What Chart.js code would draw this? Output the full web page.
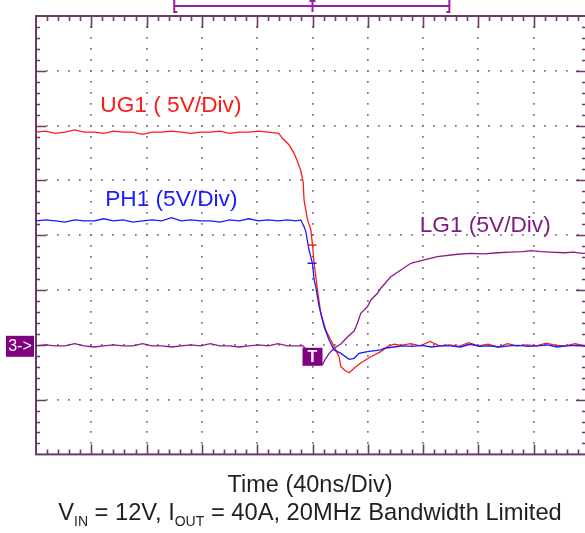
<!DOCTYPE html>
<html>
<head>
<meta charset="utf-8">
<script src="https://cdn.jsdelivr.net/npm/chart.js@4.4.1/dist/chart.umd.min.js"></script>
<style>
  html, body { margin:0; padding:0; background:#fff; overflow:hidden; }
  #wrap { position:relative; width:585px; height:533px; overflow:hidden; }
  #c { position:absolute; left:0; top:0; }
  .cap { position:absolute; left:0; width:620px; text-align:center; font-family:"Liberation Sans", Arial, sans-serif; color:#231f20; white-space:nowrap; line-height:1; }
  .cap sub { font-size:14px; vertical-align:-6px; line-height:0; }
</style>
</head>
<body>
<div id="wrap">
  <canvas id="c" width="600" height="533"></canvas>
  <div class="cap" id="cap1" style="top:473px; font-size:23.5px;">Time (40ns/Div)</div>
  <div class="cap" id="cap2" style="top:501px; font-size:23.7px;">V<sub>IN</sub> = 12V, I<sub>OUT</sub> = 40A, 20MHz Bandwidth Limited</div>
</div>
<script>
// Time in ns (40 ns/div, trigger at 0), voltage in V (5 V/div, ground at -10 + 2 div)
const ug1Time = [
  -200,-193,-186,-179,-172,-165,-158,-151,-144,-137,
  -130,-123,-116,-109,-102,-95,-88,-81,-74,-67,
  -60,-53,-46,-39,-32,-24.4,-21.7,-16.9,-13.3,-10.8,
  -8.5,-6.8,-6.1,-3.6,-1.2,0,1.2,3.6,6.0,9.6,
  13.2,15.6,19.2,20.5,23.5,26.5,30.5,34.9,42.2,49.4,
  54.2,59,64,71,78,85,92,99,106,113,
  120,127,134,141,148,155,162,169,176,183,
  190,197,201
];
const ug1Volt = [
  19.4,19.5,19.3,19.4,19.6,19.4,19.4,19.3,19.5,19.4,
  19.4,19.2,19.4,19.4,19.5,19.4,19.3,19.4,19.4,19.5,
  19.3,19.4,19.4,19.5,19.4,19.3,18.84,18.23,17.47,16.7,
  15.9,14.9,13.2,11.4,10.5,9.1,7.44,5.0,2.9,1.35,
  0.44,-0.17,-1.09,-2.0,-2.35,-2.55,-2.1,-1.66,-1.09,-0.63,
  -0.17,0.05,-0.05,0.1,-0.1,0.3,-0.1,0.0,-0.15,0.2,
  -0.1,0.05,-0.2,0.1,-0.1,0.0,-0.1,0.15,-0.05,-0.1,
  0.1,-0.1,0.0
];
const ph1Time = [
  -200,-193,-186,-179,-172,-165,-158,-151,-144,-137,
  -130,-123,-116,-109,-102,-95,-88,-81,-74,-67,
  -60,-53,-46,-39,-32,-25,-18,-12,-8.5,-6.1,
  -4.8,-2.5,0,1.2,2.4,4.8,8.4,12.0,15.6,20.5,
  26.5,30.1,33.7,39.8,49.4,51.8,58.8,65,72,79,
  86,93,100,107,114,121,128,135,142,149,
  156,163,170,177,184,191,198,201
];
const ph1Volt = [
  11.3,11.4,11.3,11.2,11.4,11.3,11.3,11.5,11.3,11.4,
  11.2,11.3,11.4,11.3,11.6,11.3,11.4,11.3,11.3,11.2,
  11.4,11.3,11.5,11.3,11.4,11.3,11.4,11.3,11.39,10.78,
  10.3,8.65,7.44,5.9,5.27,3.48,1.65,0.44,-0.47,-0.78,
  -1.32,-1.23,-0.78,-0.63,-0.47,-0.32,-0.2,-0.1,-0.15,-0.05,
  -0.2,-0.1,-0.1,-0.2,0.05,-0.15,-0.1,-0.2,-0.1,-0.05,
  -0.15,-0.1,0.0,-0.2,-0.1,-0.05,-0.15,-0.1
];
const lg1Time = [
  -200,-193,-186,-179,-172,-165,-158,-151,-144,-137,
  -130,-123,-116,-109,-102,-95,-88,-81,-74,-67,
  -60,-53,-46,-39,-32,-25,-18,-12,-7,-2.7,
  2.4,7.5,8.1,12.0,15.6,20.5,25.3,30.1,32.5,34.9,
  39.8,42.2,47.0,49.4,56.6,63.9,71.1,80.7,90.4,104.9,
  114.5,124,133.8,143,152,157.9,165,172,182,189,
  195,201
];
const lg1Volt = [
  -0.1,0.0,-0.1,-0.1,0.1,-0.1,-0.2,-0.1,0.0,-0.1,
  -0.1,0.1,-0.1,-0.1,-0.2,-0.1,0.0,-0.1,0.1,-0.1,
  -0.1,-0.2,-0.1,0.0,-0.1,0.1,-0.1,-0.1,-0.1,-0.66,
  -1.39,-1.75,-1.57,-0.78,-0.32,0.07,0.71,1.26,1.96,2.87,
  3.48,4.09,4.7,5.16,6.21,6.82,7.44,7.74,8.04,8.26,
  8.35,8.3,8.4,8.45,8.5,8.59,8.5,8.45,8.4,8.45,
  8.35,8.37
];
const seriesNames = ['UG1 ( 5V/Div)', 'PH1 (5V/Div)', 'LG1 (5V/Div)'];
const seriesColors = ['#ff1a1a', '#1a1aff', '#8a1a8a'];
const timeRange = [-200, 200];   // 10 div x 40 ns
const voltRange = [-10, 30];     // 8 div x 5 V

const pts = (t, v) => t.map((x, i) => ({ x: x, y: v[i] }));

const FRAME = '#6b3b6b';
const DOT = '#86628a';

const scopePlugin = {
  id: 'scope',
  beforeDatasetsDraw(chart) {
    const { ctx, scales: { x, y } } = chart;
    const L = x.getPixelForValue(timeRange[0]), R = x.getPixelForValue(timeRange[1]);
    const T = y.getPixelForValue(voltRange[1]), B = y.getPixelForValue(voltRange[0]);
    const dx = (R - L) / 10, dy = (B - T) / 8;
    ctx.save();
    ctx.fillStyle = DOT;
    for (let i = 1; i < 10; i++) {
      const px = L + i * dx;
      for (let j = 1; j < 40; j++) {
        const py = T + j * dy / 5;
        ctx.fillRect(Math.round(px) - 1, Math.round(py) - 1, 1.7, 1.7);
      }
    }
    for (let j = 1; j < 8; j++) {
      const py = T + j * dy;
      for (let i = 1; i < 50; i++) {
        const px = L + i * dx / 5;
        ctx.fillRect(Math.round(px) - 1, Math.round(py) - 1, 1.7, 1.7);
      }
    }
    ctx.strokeStyle = FRAME;
    ctx.lineWidth = 2;
    ctx.strokeRect(L, T, R - L, B - T);
    ctx.lineWidth = 1.6;
    ctx.beginPath();
    for (let i = 1; i < 50; i++) {
      const px = Math.round(L + i * dx / 5) + 0.5;
      const major = i % 5 === 0;
      ctx.moveTo(px, T); ctx.lineTo(px, T + (major ? 12 : 5));
      ctx.moveTo(px, B); ctx.lineTo(px, B - (major ? 10 : 5));
    }
    for (let j = 1; j < 40; j++) {
      const py = Math.round(T + j * dy / 5) + 0.5;
      const major = j % 5 === 0;
      ctx.moveTo(L, py); ctx.lineTo(L + (major ? 10 : 4), py);
      ctx.moveTo(R, py); ctx.lineTo(R - (major ? 13 : 7), py);
    }
    ctx.stroke();

    // record bracket at top
    const bl = x.getPixelForValue(-100), br = x.getPixelForValue(99), bt = x.getPixelForValue(0);
    ctx.strokeStyle = '#9a1f9a';
    ctx.lineWidth = 2;
    ctx.beginPath();
    ctx.moveTo(bl, 6); ctx.lineTo(br, 6);
    ctx.moveTo(bl, 0); ctx.lineTo(bl, 12); ctx.lineTo(bl + 3, 12);
    ctx.moveTo(br, 0); ctx.lineTo(br, 12); ctx.lineTo(br - 3, 12);
    ctx.moveTo(bt, 1); ctx.lineTo(bt, 12);
    ctx.moveTo(bt - 3, 1); ctx.lineTo(bt + 3, 1);
    ctx.stroke();
    ctx.restore();
  },
  afterDatasetsDraw(chart) {
    const { ctx, scales: { x, y } } = chart;
    const g = y.getPixelForValue(0);
    const t0 = x.getPixelForValue(0);
    ctx.save();
    // cursor marks
    ctx.lineWidth = 1.5;
    ctx.strokeStyle = seriesColors[0];
    ctx.beginPath(); ctx.moveTo(t0 - 5, y.getPixelForValue(9.1)); ctx.lineTo(t0 + 4, y.getPixelForValue(9.1)); ctx.stroke();
    ctx.strokeStyle = seriesColors[1];
    ctx.beginPath(); ctx.moveTo(t0 - 5, y.getPixelForValue(7.44)); ctx.lineTo(t0 + 4, y.getPixelForValue(7.44)); ctx.stroke();

    // ground marker
    ctx.fillStyle = '#800080';
    ctx.fillRect(6, g - 9, 28, 21);
    ctx.fillStyle = '#ffffff';
    ctx.font = '16px "Liberation Sans", Arial, sans-serif';
    ctx.textBaseline = 'middle';
    ctx.textAlign = 'center';
    ctx.fillText('3->', 20, g + 1.5);
    // trigger marker
    ctx.fillStyle = '#800080';
    ctx.fillRect(t0 - 10, g + 3, 20, 18);
    ctx.fillStyle = '#ffffff';
    ctx.font = 'bold 16px "Liberation Sans", Arial, sans-serif';
    ctx.fillText('T', t0, g + 12.5);

    // trace labels
    ctx.textAlign = 'left';
    ctx.textBaseline = 'alphabetic';
    ctx.font = '22.7px "Liberation Sans", Arial, sans-serif';
    ctx.fillStyle = seriesColors[0];
    ctx.fillText(seriesNames[0], x.getPixelForValue(-153.5), y.getPixelForValue(21.2));
    ctx.fillStyle = seriesColors[1];
    ctx.fillText(seriesNames[1], x.getPixelForValue(-150), y.getPixelForValue(12.65));
    ctx.fillStyle = '#7f1a7f';
    ctx.fillText(seriesNames[2], x.getPixelForValue(77.5), y.getPixelForValue(10.3));
    ctx.restore();
  }
};

new Chart(document.getElementById('c'), {
  type: 'line',
  data: {
    datasets: [
      { label: seriesNames[0], data: pts(ug1Time, ug1Volt), borderColor: seriesColors[0], order: 1 },
      { label: seriesNames[1], data: pts(ph1Time, ph1Volt), borderColor: seriesColors[1], order: 0 },
      { label: seriesNames[2], data: pts(lg1Time, lg1Volt), borderColor: seriesColors[2], order: 2 }
    ]
  },
  options: {
    responsive: false,
    animation: false,
    devicePixelRatio: 1,
    layout: { padding: { left: 36, top: 16, right: 11, bottom: 78.6 } },
    elements: { line: { borderWidth: 1.3, tension: 0 }, point: { radius: 0 } },
    plugins: { legend: { display: false }, tooltip: { enabled: false }, title: { display: false } },
    scales: {
      x: { type: 'linear', min: timeRange[0], max: timeRange[1], display: false },
      y: { type: 'linear', min: voltRange[0], max: voltRange[1], display: false }
    }
  },
  plugins: [scopePlugin]
});
</script>
</body>
</html>
